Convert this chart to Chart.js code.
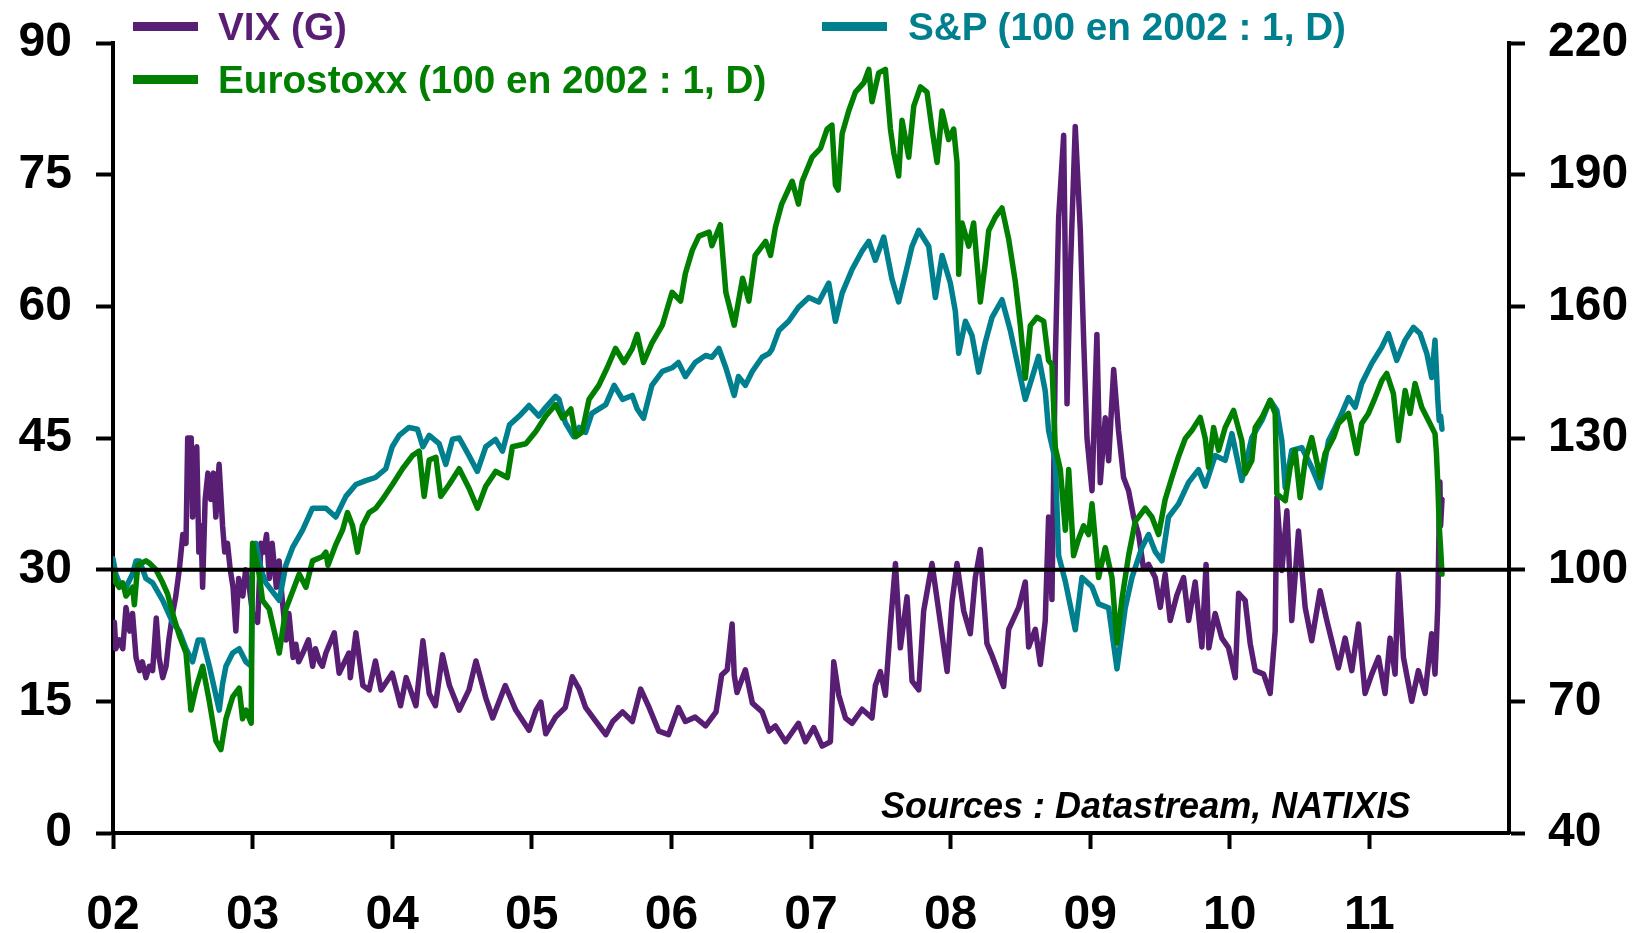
<!DOCTYPE html>
<html>
<head>
<meta charset="utf-8">
<script src="https://cdn.jsdelivr.net/npm/chart.js@4.4.1/dist/chart.umd.min.js"></script>
<style>
  html, body { margin: 0; padding: 0; background: #fff; }
  #wrap { position: relative; width: 1648px; height: 933px; font-family: "Liberation Sans", Arial, sans-serif; }
  #chart { position: absolute; left: 0; top: 0; }
  .lg-line { position: absolute; height: 9px; width: 65px; }
  .lg-text { position: absolute; font-size: 38.7px; font-weight: bold; line-height: 38px; white-space: nowrap; }
  #src { position: absolute; left: 881px; top: 788px; font-size: 36px; font-weight: bold; font-style: italic; line-height: 36px; white-space: nowrap; color: #000; }
</style>
</head>
<body>
<div id="wrap">
  <canvas id="chart" width="1648" height="933"></canvas>
  <div class="lg-line" style="left:133px; top:22px; background:#581e74;"></div>
  <div class="lg-text" style="left:218px; top:8px; color:#581e74;">VIX (G)</div>
  <div class="lg-line" style="left:133px; top:75px; background:#007f00;"></div>
  <div class="lg-text" style="left:218px; top:61px; color:#007f00;">Eurostoxx (100 en 2002 : 1, D)</div>
  <div class="lg-line" style="left:822px; top:22px; background:#00808f;"></div>
  <div class="lg-text" style="left:908px; top:8px; color:#00808f;">S&amp;P (100 en 2002 : 1, D)</div>
  <div id="src">Sources : Datastream, NATIXIS</div>
</div>
<script>
// x axis: years (decimal), labels
const yearTicks = [2002, 2003, 2004, 2005, 2006, 2007, 2008, 2009, 2010, 2011];
const yearLabels = ['02', '03', '04', '05', '06', '07', '08', '09', '10', '11'];

// VIX, left axis  [year, value]
const vix = [
  [2002.00, 22], [2002.01, 24], [2002.02, 21], [2002.045, 22], [2002.07, 21], [2002.093, 25.7], [2002.12, 23], [2002.14, 25],
  [2002.165, 20], [2002.19, 18.5], [2002.21, 19.5], [2002.236, 17.7], [2002.26, 19], [2002.284, 18.5], [2002.31, 24.5], [2002.33, 20],
  [2002.356, 17.7], [2002.38, 19], [2002.40, 22], [2002.427, 25], [2002.45, 27], [2002.475, 30], [2002.50, 34], [2002.523, 33],
  [2002.535, 45], [2002.56, 45], [2002.57, 36], [2002.60, 44], [2002.615, 32], [2002.63, 35], [2002.642, 28], [2002.66, 38],
  [2002.68, 41], [2002.70, 38], [2002.72, 41], [2002.737, 36], [2002.76, 42], [2002.785, 35], [2002.80, 32], [2002.82, 33],
  [2002.84, 30], [2002.86, 28], [2002.88, 23], [2002.90, 29], [2002.93, 27], [2002.95, 30], [2002.976, 28], [2003.00, 25],
  [2003.036, 24], [2003.06, 33], [2003.08, 32], [2003.10, 34], [2003.12, 29], [2003.14, 33], [2003.17, 28], [2003.19, 31],
  [2003.21, 27], [2003.24, 22], [2003.26, 25], [2003.29, 20], [2003.31, 21.5], [2003.33, 19.5], [2003.36, 20.5], [2003.40, 22],
  [2003.43, 19], [2003.45, 21], [2003.48, 19.5], [2003.50, 19], [2003.525, 20.5], [2003.585, 22.8], [2003.62, 18.2], [2003.69, 20.5],
  [2003.70, 17.7], [2003.74, 22.8], [2003.79, 16.8], [2003.835, 16.3], [2003.88, 19.6], [2003.92, 16.3], [2004.00, 18.2], [2004.06, 14.5],
  [2004.10, 17.7], [2004.17, 14.5], [2004.22, 21.9], [2004.265, 15.9], [2004.31, 14.5], [2004.36, 20.3], [2004.41, 16.8], [2004.48, 14],
  [2004.55, 16.3], [2004.60, 19.6], [2004.67, 15.4], [2004.72, 13.1], [2004.81, 16.8], [2004.885, 14], [2004.98, 11.7], [2005.03, 14],
  [2005.065, 14.9], [2005.10, 11.3], [2005.17, 13.2], [2005.24, 14.3], [2005.29, 17.8], [2005.34, 16.4], [2005.385, 14.3], [2005.46, 12.7],
  [2005.53, 11.2], [2005.58, 12.7], [2005.65, 13.8], [2005.72, 12.7], [2005.78, 16.4], [2005.84, 14.3], [2005.91, 11.6], [2005.98, 11.2],
  [2006.05, 14.3], [2006.10, 12.7], [2006.17, 13.2], [2006.245, 12.2], [2006.32, 13.8], [2006.36, 18], [2006.40, 18.6], [2006.435, 23.8],
  [2006.45, 18], [2006.47, 16], [2006.53, 18.6], [2006.58, 14.8], [2006.65, 13.8], [2006.70, 11.6], [2006.745, 12.2], [2006.817, 10.4],
  [2006.91, 12.5], [2006.96, 10.4], [2007.02, 12], [2007.08, 9.9], [2007.139, 10.4], [2007.163, 19.5], [2007.199, 15.7], [2007.247, 13.1],
  [2007.294, 12.5], [2007.366, 14.1], [2007.437, 13.1], [2007.461, 16.8], [2007.497, 18.4], [2007.533, 15.7], [2007.569, 23.7], [2007.605, 30.7],
  [2007.64, 21.1], [2007.688, 26.9], [2007.724, 17.3], [2007.772, 16.3], [2007.807, 25.3], [2007.867, 30.7], [2007.915, 25.3], [2007.975, 18.4],
  [2008.01, 26.3], [2008.046, 30.7], [2008.094, 25.3], [2008.141, 22.7], [2008.177, 29.1], [2008.213, 32.3], [2008.26, 21.6], [2008.297, 20.2],
  [2008.344, 18.2], [2008.38, 16.7], [2008.416, 23.2], [2008.488, 25.7], [2008.535, 28.6], [2008.559, 21.2], [2008.607, 23.2], [2008.643, 19.2],
  [2008.678, 24.2], [2008.702, 36], [2008.726, 26.6], [2008.75, 53.8], [2008.774, 70.1], [2008.81, 79.5], [2008.834, 48.9], [2008.857, 63.7],
  [2008.893, 80.5], [2008.929, 68.7], [2008.953, 56.3], [2008.977, 45], [2009.013, 39], [2009.048, 56.8], [2009.072, 39.9], [2009.108, 47.3],
  [2009.132, 42.4], [2009.168, 52.8], [2009.203, 45.8], [2009.239, 40.5], [2009.275, 39], [2009.311, 36], [2009.347, 34], [2009.382, 30.1],
  [2009.418, 30.6], [2009.466, 29.1], [2009.502, 25.7], [2009.537, 29.5], [2009.573, 24.2], [2009.621, 27.1], [2009.669, 29.1], [2009.705, 24.2],
  [2009.752, 28.6], [2009.80, 21.2], [2009.83, 30.6], [2009.85, 21.1], [2009.895, 25], [2009.943, 22.2], [2009.991, 21.1], [2010.039, 17.7],
  [2010.063, 27.3], [2010.11, 26.5], [2010.146, 21.6], [2010.182, 18.5], [2010.242, 18.1], [2010.289, 15.9], [2010.325, 23], [2010.337, 38.2],
  [2010.373, 29.9], [2010.409, 36.7], [2010.444, 24.2], [2010.492, 34.4], [2010.54, 25.7], [2010.587, 21.9], [2010.647, 27.6], [2010.695, 24.2],
  [2010.743, 21.1], [2010.778, 18.8], [2010.826, 22.2], [2010.874, 18.5], [2010.922, 23.8], [2010.969, 15.9], [2011.017, 18.1], [2011.065, 20],
  [2011.112, 15.9], [2011.148, 22.2], [2011.184, 18.1], [2011.208, 29.5], [2011.244, 20], [2011.303, 15], [2011.351, 18.5], [2011.399, 15.9],
  [2011.446, 22.7], [2011.47, 18.1], [2011.48, 21.8], [2011.49, 26], [2011.50, 36], [2011.505, 40], [2011.51, 35], [2011.52, 38]
];

// S&P, right axis
const sp = [
  [2002.00, 102.5], [2002.02, 99], [2002.045, 97], [2002.093, 96], [2002.14, 99], [2002.165, 102], [2002.19, 102], [2002.236, 98],
  [2002.284, 97], [2002.356, 93], [2002.427, 88], [2002.475, 86], [2002.523, 82], [2002.57, 79], [2002.61, 84], [2002.642, 84],
  [2002.69, 78], [2002.761, 68], [2002.785, 74], [2002.809, 78], [2002.857, 81], [2002.904, 82], [2002.952, 79], [2002.99, 78],
  [2003.00, 105], [2003.024, 106], [2003.047, 102], [2003.071, 99], [2003.095, 97], [2003.143, 95], [2003.191, 93], [2003.238, 101],
  [2003.286, 105], [2003.358, 109], [2003.429, 114], [2003.477, 114], [2003.525, 114], [2003.596, 112], [2003.668, 116.7], [2003.74, 119.4],
  [2003.811, 120.3], [2003.88, 121], [2003.954, 123], [2004.00, 128], [2004.05, 130.6], [2004.12, 132.4], [2004.181, 132], [2004.22, 128],
  [2004.265, 130.6], [2004.336, 128.7], [2004.384, 124], [2004.432, 129.7], [2004.48, 130], [2004.55, 126], [2004.61, 122.4], [2004.67, 128],
  [2004.74, 129.7], [2004.79, 127], [2004.84, 133], [2004.91, 135], [2004.98, 137.4], [2005.05, 135], [2005.10, 137], [2005.17, 139.5],
  [2005.195, 138.8], [2005.24, 133.5], [2005.30, 130.3], [2005.34, 132.4], [2005.385, 131.3], [2005.43, 135.6], [2005.53, 137.6], [2005.59, 142],
  [2005.65, 138.8], [2005.72, 139.7], [2005.755, 136.6], [2005.80, 134.5], [2005.86, 142], [2005.935, 145.2], [2006.005, 146], [2006.05, 147.2],
  [2006.10, 144], [2006.17, 147.2], [2006.245, 148.8], [2006.29, 148.4], [2006.34, 150.4], [2006.39, 146], [2006.45, 139.7], [2006.48, 144],
  [2006.53, 142], [2006.58, 145.2], [2006.65, 148.4], [2006.70, 149.3], [2006.72, 150.2], [2006.77, 154.5], [2006.84, 156.6], [2006.91, 159.8],
  [2006.984, 162], [2007.056, 161], [2007.127, 165.3], [2007.175, 156.6], [2007.223, 163], [2007.294, 168.4], [2007.366, 172.6], [2007.414, 174.8],
  [2007.461, 170.5], [2007.521, 175.8], [2007.58, 166.2], [2007.628, 161], [2007.676, 167.3], [2007.724, 173.7], [2007.772, 177.3], [2007.843, 173.7],
  [2007.891, 162], [2007.939, 171.6], [2007.998, 165.3], [2008.034, 158.9], [2008.058, 149.3], [2008.106, 156.6], [2008.153, 153.4], [2008.201, 145],
  [2008.25, 152], [2008.297, 157.5], [2008.368, 161.5], [2008.428, 154.5], [2008.488, 145.6], [2008.535, 138.8], [2008.583, 143.7], [2008.63, 148.6],
  [2008.678, 140.7], [2008.702, 131.7], [2008.75, 124.9], [2008.774, 103.2], [2008.822, 97.3], [2008.893, 86.3], [2008.941, 98.2], [2009.013, 96.1],
  [2009.06, 92.2], [2009.132, 91.3], [2009.192, 77.4], [2009.251, 91.3], [2009.299, 98.2], [2009.37, 105], [2009.418, 108], [2009.466, 104.1],
  [2009.514, 102], [2009.561, 112], [2009.633, 115], [2009.705, 119.9], [2009.776, 122.8], [2009.824, 119], [2009.895, 126], [2009.967, 124.9],
  [2010.015, 131], [2010.086, 120.3], [2010.158, 130.1], [2010.23, 134], [2010.289, 138.6], [2010.337, 136.3], [2010.373, 129.4], [2010.397, 118.7],
  [2010.444, 127.2], [2010.516, 127.8], [2010.587, 123.3], [2010.647, 118.7], [2010.707, 129.4], [2010.755, 132.4], [2010.802, 135.6], [2010.85, 139.2],
  [2010.898, 137], [2010.945, 142.4], [2011.017, 147], [2011.089, 150.7], [2011.136, 153.8], [2011.196, 147.7], [2011.256, 152.3], [2011.315, 155.2],
  [2011.363, 153.8], [2011.411, 149.3], [2011.446, 143.8], [2011.47, 152.3], [2011.49, 138.6], [2011.50, 134], [2011.51, 135], [2011.52, 132]
];

// Eurostoxx, right axis
const es = [
  [2002.00, 100], [2002.021, 97], [2002.045, 96], [2002.07, 97], [2002.093, 94], [2002.141, 96], [2002.153, 92], [2002.177, 101],
  [2002.236, 102], [2002.26, 101.5], [2002.308, 100], [2002.356, 97], [2002.391, 94.5], [2002.427, 90], [2002.475, 85], [2002.523, 81],
  [2002.558, 68], [2002.594, 73], [2002.642, 78], [2002.69, 70], [2002.737, 61], [2002.773, 59], [2002.809, 66], [2002.857, 71],
  [2002.904, 73], [2002.928, 66], [2002.952, 68], [2002.99, 65], [2003.00, 106], [2003.047, 99], [2003.071, 93], [2003.119, 91],
  [2003.191, 81], [2003.238, 91], [2003.286, 95], [2003.334, 99], [2003.382, 96], [2003.429, 102], [2003.501, 103], [2003.525, 104],
  [2003.54, 101], [2003.596, 105.7], [2003.644, 109], [2003.68, 113], [2003.716, 110], [2003.752, 104], [2003.787, 110], [2003.835, 113],
  [2003.883, 114], [2003.93, 116], [2004.002, 119.4], [2004.074, 123], [2004.145, 126], [2004.193, 127], [2004.229, 116.7], [2004.265, 125],
  [2004.313, 125.6], [2004.348, 116.7], [2004.408, 119.4], [2004.48, 123], [2004.551, 118.5], [2004.611, 114], [2004.67, 119], [2004.742, 122.4],
  [2004.825, 121], [2004.861, 128], [2004.957, 128.7], [2005.029, 131.5], [2005.10, 135], [2005.17, 137.6], [2005.22, 134.5], [2005.28, 136.6],
  [2005.315, 130.3], [2005.36, 131.3], [2005.41, 138.8], [2005.48, 142], [2005.54, 146], [2005.60, 150.4], [2005.66, 147.2], [2005.72, 150.4],
  [2005.755, 153.6], [2005.80, 147.2], [2005.86, 151.6], [2005.935, 155.7], [2006.005, 163.2], [2006.066, 161.2], [2006.10, 167.5], [2006.15, 172.8],
  [2006.197, 176], [2006.27, 176.9], [2006.29, 173.8], [2006.35, 178.6], [2006.39, 163.2], [2006.45, 155.7], [2006.51, 166.4], [2006.555, 161.2],
  [2006.60, 171.6], [2006.675, 174.8], [2006.71, 171.6], [2006.745, 178], [2006.79, 183.3], [2006.865, 188.5], [2006.91, 183.3], [2006.937, 188.5],
  [2007.008, 194], [2007.068, 196], [2007.115, 200.4], [2007.15, 201.3], [2007.175, 187.6], [2007.194, 186.5], [2007.223, 199.3], [2007.27, 204.5],
  [2007.318, 208.8], [2007.378, 210.9], [2007.414, 214], [2007.437, 206.6], [2007.485, 213.2], [2007.533, 214], [2007.569, 200.4], [2007.593, 195],
  [2007.628, 189.7], [2007.652, 202.4], [2007.70, 194], [2007.736, 205.6], [2007.784, 210], [2007.831, 208.8], [2007.867, 200.4], [2007.903, 192.8],
  [2007.939, 204.5], [2007.986, 198], [2008.022, 200.4], [2008.046, 192.8], [2008.058, 167.3], [2008.082, 179], [2008.13, 173.7], [2008.165, 179],
  [2008.213, 161], [2008.249, 170], [2008.273, 177.3], [2008.32, 180.3], [2008.368, 182.4], [2008.416, 175.3], [2008.464, 165.5], [2008.50, 155.6],
  [2008.535, 143.6], [2008.571, 155.6], [2008.619, 157.5], [2008.667, 156.6], [2008.702, 147.7], [2008.726, 146.7], [2008.75, 127.8], [2008.786, 122.8],
  [2008.822, 109], [2008.846, 122.8], [2008.881, 103.2], [2008.917, 107], [2008.953, 110], [2008.989, 108], [2009.013, 115], [2009.06, 98.2],
  [2009.108, 105], [2009.156, 98.2], [2009.192, 83.3], [2009.227, 93.2], [2009.275, 103.2], [2009.323, 111], [2009.394, 114], [2009.442, 112],
  [2009.49, 108], [2009.537, 116], [2009.585, 121], [2009.633, 125.8], [2009.681, 129.9], [2009.728, 131.7], [2009.788, 134.7], [2009.824, 129.9],
  [2009.848, 123.3], [2009.884, 132.4], [2009.92, 127.2], [2009.967, 132.4], [2010.027, 136.3], [2010.086, 129.4], [2010.11, 121.9], [2010.158, 124.9],
  [2010.182, 132.4], [2010.23, 134.7], [2010.289, 138.6], [2010.325, 135.6], [2010.337, 117.3], [2010.397, 115.7], [2010.432, 123.3], [2010.468, 127.2],
  [2010.504, 116.4], [2010.54, 124.9], [2010.587, 130.1], [2010.647, 121], [2010.683, 126.5], [2010.743, 130.1], [2010.778, 133.3], [2010.85, 135.6],
  [2010.91, 126.5], [2010.945, 133.3], [2010.993, 135.6], [2011.041, 139.2], [2011.089, 143.1], [2011.124, 144.7], [2011.172, 140.1], [2011.208, 129.4],
  [2011.256, 140.8], [2011.291, 135.6], [2011.327, 142.4], [2011.375, 137], [2011.423, 134], [2011.47, 131], [2011.48, 126.7], [2011.49, 119.6],
  [2011.50, 110], [2011.51, 105], [2011.52, 99]
];

// reference line (30 on the left axis = 100 on the right)
const refLine = [[2002, 30], [2012, 30]];

const toXY = arr => arr.map(p => ({ x: p[0], y: p[1] }));
const axisFont = { family: '"Liberation Sans", Arial, sans-serif', size: 48, weight: 'bold' };

// fixed axis boxes so the plot area sits where the original one does
function fixBox(size, key) {
  return s => {
    s[key] = size;
    s.paddingTop = 0; s.paddingBottom = 0; s.paddingLeft = 0; s.paddingRight = 0;
  };
}

const ctx = document.getElementById('chart');
const chart = new Chart(ctx, {
  type: 'line',
  data: {
    datasets: [
      { label: 'ref', data: toXY(refLine), yAxisID: 'yL', borderColor: '#000', borderWidth: 4, order: 0 },
      { label: 'Eurostoxx (100 en 2002 : 1, D)', data: toXY(es), yAxisID: 'yR', borderColor: '#007f00', borderWidth: 5.5, order: 1 },
      { label: 'S&P (100 en 2002 : 1, D)', data: toXY(sp), yAxisID: 'yR', borderColor: '#00808f', borderWidth: 5.5, order: 2 },
      { label: 'VIX (G)', data: toXY(vix), yAxisID: 'yL', borderColor: '#581e74', borderWidth: 5.5, order: 3 }
    ]
  },
  options: {
    responsive: false,
    animation: false,
    layout: { padding: { top: 43, left: 0, right: 0, bottom: 0 } },
    elements: {
      point: { radius: 0 },
      line: { tension: 0, borderJoinStyle: 'round', borderCapStyle: 'round' }
    },
    plugins: { legend: { display: false }, tooltip: { enabled: false } },
    scales: {
      x: {
        type: 'linear', min: 2002, max: 2012,
        afterBuildTicks: s => { s.ticks = yearTicks.map(v => ({ value: v })); },
        afterFit: fixBox(100, 'height'),
        ticks: {
          autoSkip: false, maxRotation: 0, padding: 38, color: '#000', font: axisFont,
          callback: v => yearLabels[yearTicks.indexOf(v)]
        },
        grid: { drawOnChartArea: false, drawTicks: true, tickLength: 16, tickWidth: 4, tickColor: '#000' },
        border: { display: true, color: '#000', width: 4 }
      },
      yL: {
        position: 'left', min: 0, max: 90,
        afterFit: fixBox(113, 'width'),
        ticks: { stepSize: 15, padding: 24, color: '#000', font: axisFont },
        grid: { drawOnChartArea: false, drawTicks: true, tickLength: 17, tickWidth: 4, tickColor: '#000' },
        border: { display: true, color: '#000', width: 4 }
      },
      yR: {
        position: 'right', min: 40, max: 220,
        afterFit: fixBox(139, 'width'),
        ticks: { stepSize: 30, padding: 23, color: '#000', font: axisFont },
        grid: { drawOnChartArea: false, drawTicks: true, tickLength: 16, tickWidth: 4, tickColor: '#000' },
        border: { display: true, color: '#000', width: 4 }
      }
    }
  }
});
</script>
</body>
</html>
